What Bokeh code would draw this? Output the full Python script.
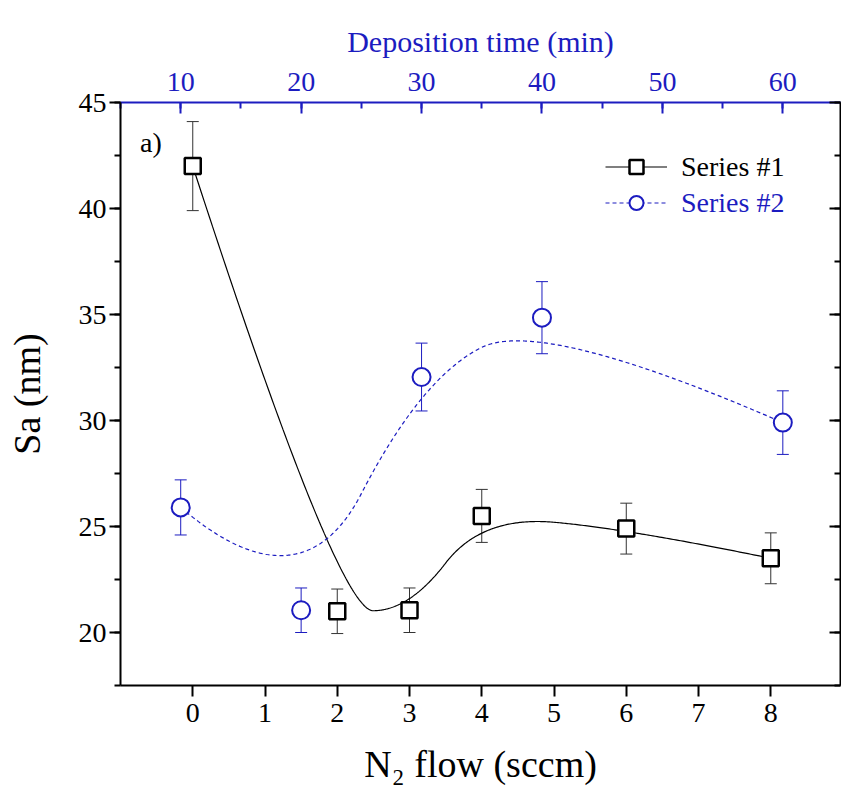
import numpy as np
from bokeh.plotting import figure
from bokeh.models import (Range1d, LinearAxis, Whisker, TeeHead, ColumnDataSource,
                          Legend, LegendItem, Label, FixedTicker, SingleIntervalTicker,
                          CustomJSTickFormatter)
from bokeh.embed import file_html
from bokeh.resources import INLINE

# ---------------- data ----------------
s1_flow = [0, 2, 3, 4, 6, 8]                      # N2 flow (sccm)
s1_sa = [42.0, 21.0, 21.05, 25.5, 24.9, 23.5]     # Sa (nm)
s1_err = [2.1, 1.05, 1.05, 1.25, 1.2, 1.2]

s2_time = [10, 20, 30, 40, 60]                    # deposition time (min)
s2_sa = [25.9, 21.05, 32.05, 34.85, 29.9]
s2_err = [1.3, 1.05, 1.6, 1.7, 1.5]

flow_ticks = [0, 1, 2, 3, 4, 5, 6, 7, 8]
time_ticks = [10, 20, 30, 40, 50, 60]
sa_ticks = [20, 25, 30, 35, 40, 45]

FONT = "Liberation Serif"
BLUE = "#1c1cc0"


def bspline(xs, ys, degree=2, n=400):
    """Clamped uniform B-spline using the data points as control points."""
    P = np.column_stack([xs, ys]).astype(float)
    k = len(P)
    p = min(degree, k - 1)
    inner = np.linspace(0, 1, k - p + 1)[1:-1]
    knots = np.concatenate([np.zeros(p + 1), inner, np.ones(p + 1)])
    t = np.linspace(0, 1, n)
    t[-1] = 1 - 1e-12
    N = np.zeros((n, len(knots) - 1))
    for i in range(len(knots) - 1):
        N[:, i] = ((knots[i] <= t) & (t < knots[i + 1])).astype(float)
    for d in range(1, p + 1):
        Nn = np.zeros((n, len(knots) - 1 - d))
        for i in range(len(knots) - 1 - d):
            a = np.zeros(n)
            b = np.zeros(n)
            den1 = knots[i + d] - knots[i]
            den2 = knots[i + d + 1] - knots[i + 1]
            if den1 > 0:
                a = (t - knots[i]) / den1 * N[:, i]
            if den2 > 0:
                b = (knots[i + d + 1] - t) / den2 * N[:, i + 1]
            Nn[:, i] = a + b
        N = Nn
    C = N @ P
    return C[:, 0], C[:, 1]


W, H = 841, 799
x0, x1 = -1.0, 8.965
p = figure(width=W, height=H, output_backend="svg", toolbar_location=None,
           x_range=Range1d(x0, x1), y_range=Range1d(17.5, 45),
           x_axis_location=None, y_axis_location=None,
           min_border_left=120, min_border_right=1, min_border_top=102, min_border_bottom=114)
p.extra_x_ranges = {"time": Range1d(5 + 6 * (x0 + 1), 5 + 6 * (x1 + 1))}
p.outline_line_color = None
p.background_fill_color = "white"
p.border_fill_color = "white"
p.xgrid.grid_line_color = None
p.ygrid.grid_line_color = None


def style_axis(ax, color="black"):
    ax.axis_line_width = 2
    ax.axis_line_color = color
    ax.major_tick_line_width = 2
    ax.major_tick_line_color = color
    ax.minor_tick_line_width = 2
    ax.minor_tick_line_color = color
    ax.major_label_text_font = FONT
    ax.major_label_text_font_size = "28px"
    ax.major_label_text_color = color
    ax.axis_label_text_font = FONT
    ax.axis_label_text_font_style = "normal"
    ax.axis_label_text_color = color


# bottom axis
xb = LinearAxis(ticker=FixedTicker(ticks=flow_ticks, minor_ticks=[]), axis_label="N₂ flow (sccm)")
style_axis(xb)
xb.major_tick_out = 11
xb.major_tick_in = 0
xb.major_label_standoff = 7
xb.axis_label_standoff = 18
xb.axis_label_text_font_size = "38px"
p.add_layout(xb, "below")

# top axis (deposition time)
xt = LinearAxis(x_range_name="time", ticker=SingleIntervalTicker(interval=10, num_minor_ticks=2),
                axis_label="Deposition time (min)")
style_axis(xt, BLUE)
xt.major_tick_out = 0
xt.major_tick_in = 11
xt.minor_tick_out = 0
xt.minor_tick_in = 6
xt.major_label_standoff = 12
xt.axis_label_standoff = 12
xt.axis_label_text_font_size = "30px"
p.add_layout(xt, "above")

# left axis
yl = LinearAxis(ticker=SingleIntervalTicker(interval=5, num_minor_ticks=2), axis_label="Sa (nm)")
style_axis(yl)
yl.major_tick_out = 11
yl.major_tick_in = 0
yl.minor_tick_out = 6
yl.minor_tick_in = 0
yl.major_label_standoff = 3
yl.axis_label_standoff = 28
yl.axis_label_text_font_size = "38px"
p.add_layout(yl, "left")

# right axis (ticks only)
yr = LinearAxis(ticker=SingleIntervalTicker(interval=5, num_minor_ticks=2),
                formatter=CustomJSTickFormatter(code="return ''"))
style_axis(yr)
yr.major_tick_out = 0
yr.major_tick_in = 11
yr.minor_tick_out = 0
yr.minor_tick_in = 6
yr.major_label_standoff = 0
p.add_layout(yr, "right")

# ---------------- series 1 ----------------
cx1, cy1 = bspline(s1_flow, s1_sa)
l1 = p.line(cx1, cy1, line_color="black", line_width=1.2)
src1 = ColumnDataSource(dict(x=s1_flow, y=s1_sa,
                             upper=[v + e for v, e in zip(s1_sa, s1_err)],
                             lower=[v - e for v, e in zip(s1_sa, s1_err)]))
p.add_layout(Whisker(source=src1, base="x", upper="upper", lower="lower",
                     line_color="#333333", line_width=1,
                     upper_head=TeeHead(size=12, line_color="#333333", line_width=1),
                     lower_head=TeeHead(size=12, line_color="#333333", line_width=1)))
m1 = p.scatter("x", "y", source=src1, marker="square", size=16, line_width=2.5,
               line_color="black", fill_color="white")

# ---------------- series 2 ----------------
cx2, cy2 = bspline(s2_time, s2_sa)
l2 = p.line(cx2, cy2, line_color=BLUE, line_width=1.2, line_dash="4 3", x_range_name="time")
src2 = ColumnDataSource(dict(x=s2_time, y=s2_sa,
                             upper=[v + e for v, e in zip(s2_sa, s2_err)],
                             lower=[v - e for v, e in zip(s2_sa, s2_err)]))
p.add_layout(Whisker(source=src2, base="x", upper="upper", lower="lower", x_range_name="time",
                     line_color=BLUE, line_width=1,
                     upper_head=TeeHead(size=12, line_color=BLUE, line_width=1),
                     lower_head=TeeHead(size=12, line_color=BLUE, line_width=1)))
m2 = p.scatter("x", "y", source=src2, marker="circle", size=18, line_width=2,
               line_color=BLUE, fill_color="white", x_range_name="time")

# ---------------- legends ----------------
def make_legend(label, rends, color, loc):
    return Legend(items=[LegendItem(label=label, renderers=rends)], location=loc,
                  glyph_width=62, glyph_height=35, label_standoff=14, padding=0, margin=0,
                  spacing=0, border_line_color=None, background_fill_alpha=0,
                  label_text_font=FONT, label_text_font_size="28px", label_text_color=color)

p.add_layout(make_legend("Series #1", [l1, m1], "black", (485, 501)))
p.add_layout(make_legend("Series #2", [l2, m2], BLUE, (485, 465)))

# panel letter
p.add_layout(Label(x=-0.58, y=43.1, text="a)", text_font=FONT, text_font_size="28px",
                   text_align="center", text_baseline="middle", text_color="black"))

open("out.html", "w").write(file_html(p, INLINE))
